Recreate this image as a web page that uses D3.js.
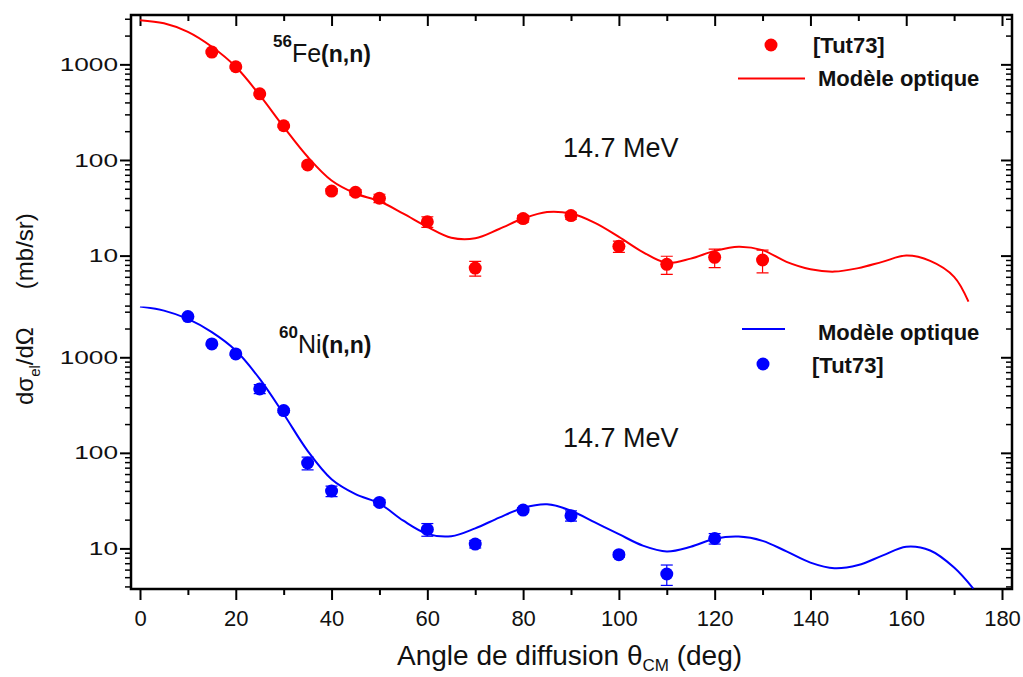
<!DOCTYPE html>
<html>
<head>
<meta charset="utf-8">
<script src="https://cdn.jsdelivr.net/npm/d3@7/dist/d3.min.js"></script>
<style>
	html, body { margin: 0; padding: 0; background: #ffffff; }
	svg { display: block; font-family: 'Liberation Sans', Arial, sans-serif; }
</style>
</head>
<body>
<div id="chart"></div>
<script>
(function () {
	'use strict';

	// --- Data (mb/sr vs. CM angle, deg) ---
	var FE_ANGLES = [15, 20, 25, 30, 35, 40, 45, 50, 60, 70, 80, 90, 100, 110, 120, 130];
	var FE_XS     = [1345, 944, 492, 228, 88.7, 47.3, 46, 39.8, 22.6, 7.4, 24.4, 26.2, 12.5, 8.1, 9.6, 9.0];
	var FE_ERR    = [40, 30, 15, 7, 4, 3, 3, 4, 2.9, 1.3, 2, 2.2, 1.7, 1.75, 2.1, 2.4];

	var FE_MODEL_ANGLES = [0, 5, 10, 15, 20, 25, 30, 35, 40, 45, 50, 55, 60, 65, 70, 75, 80, 85, 90,
		95, 100, 105, 110, 115, 120, 125, 130, 135, 140, 145, 150, 155, 160, 165, 170, 173];
	var FE_MODEL_XS = [2900, 2690, 2190, 1530, 944, 476, 222, 108, 61, 44.6, 37, 27.5, 20, 15.4, 15.2,
		19, 24.4, 28.6, 27.5, 22, 15.7, 10.9, 8.4, 9.3, 11.2, 12.4, 11.4, 8.6, 7.2, 6.8, 7.4, 8.6,
		10, 8.8, 6.0, 3.3];

	var NI_ANGLES = [10, 15, 20, 25, 30, 35, 40, 50, 60, 70, 80, 90, 100, 110, 120];
	var NI_XS     = [2670, 1380, 1085, 467, 277, 78.3, 39.9, 30.3, 15.8, 11.1, 25.2, 22, 8.6, 5.4, 12.7];
	var NI_ERR    = [80, 40, 30, 50, 12, 12, 5, 2, 2.4, 1.0, 1.5, 2.7, 0.5, 1.3, 1.6];

	var NI_MODEL_ANGLES = [0, 5, 10, 15, 20, 25, 30, 35, 40, 45, 50, 55, 60, 65, 70, 75, 80, 85, 90,
		95, 100, 105, 110, 115, 120, 125, 130, 135, 140, 145, 150, 155, 160, 165, 170, 174];
	var NI_MODEL_XS = [3400, 3080, 2520, 1830, 1175, 594, 255, 105, 53, 37, 29.5, 19.5, 14.2, 13.4,
		16.2, 21, 26.5, 28.9, 24.8, 18.7, 14.1, 10.7, 9.3, 10.4, 12.6, 13.3, 12, 9.3, 7.1, 6.2, 6.7,
		8.4, 10.4, 9.5, 6.3, 3.8];

	var X_TICKS       = [0, 20, 40, 60, 80, 100, 120, 140, 160, 180];
	var X_MINOR_TICKS = [10, 30, 50, 70, 90, 110, 130, 150, 170];
	var Y_TICKS       = [10, 100, 1000];

	// --- Layout (pixels) ---
	var WIDTH  = 1023;
	var HEIGHT = 677;
	var LEFT   = 131;
	var RIGHT  = 1012;
	var TOP    = 15;
	var BOTTOM = 589;
	var MAJOR  = 11;
	var MINOR  = 6;
	var FONT   = "'Liberation Sans', Arial, sans-serif";
	var YLAB_STRETCH = 1.38;   // y tick labels are drawn wide in the original

	var RED  = '#ff0000';
	var BLUE = '#0000ff';

	var x = d3.scaleLinear().domain([0, 180]).range([140, 1002]);

	// two stacked log panels sharing the frame
	var yFe = d3.scaleLog().domain([2.95, 3283]).range([306.3, TOP]);
	var yNi = d3.scaleLog().domain([3.76, 3400]).range([BOTTOM, 306.5]);

	function logMinors(scale) {
		var dom = scale.domain();
		var out = [];
		for (var p = 0; p <= 3; p++) {
			for (var m = 2; m <= 9; m++) {
				var v = m * Math.pow(10, p);
				if (v >= dom[0] && v <= dom[1]) out.push(v);
			}
		}
		return out;
	}

	var svg = d3.select('#chart').append('svg')
		.attr('width', WIDTH)
		.attr('height', HEIGHT);

	svg.append('rect').attr('width', WIDTH).attr('height', HEIGHT).attr('fill', '#ffffff');

	function styleAxis(g, width) {
		g.select('.domain').remove();
		g.selectAll('line').attr('stroke', '#000').attr('stroke-width', width);
	}

	// --- X axes: bottom (outward, labelled) and top (inward) ---
	var xb = svg.append('g').attr('transform', 'translate(0,' + BOTTOM + ')');
	xb.call(d3.axisBottom(x).tickValues(X_TICKS).tickSize(MAJOR).tickPadding(10).tickFormat(d3.format('d')));
	styleAxis(xb, 2);
	xb.selectAll('text').attr('fill', '#111').style('font-size', '22px').style('font-family', FONT);

	var xbm = svg.append('g').attr('transform', 'translate(0,' + BOTTOM + ')');
	xbm.call(d3.axisBottom(x).tickValues(X_MINOR_TICKS).tickSize(MINOR).tickFormat(''));
	styleAxis(xbm, 2);

	var xt = svg.append('g').attr('transform', 'translate(0,' + TOP + ')');
	xt.call(d3.axisBottom(x).tickValues(X_TICKS).tickSize(MAJOR).tickFormat(''));
	styleAxis(xt, 2);
	var xtm = svg.append('g').attr('transform', 'translate(0,' + TOP + ')');
	xtm.call(d3.axisBottom(x).tickValues(X_MINOR_TICKS).tickSize(MINOR).tickFormat(''));
	styleAxis(xtm, 2);

	// --- Y axes for each panel: left (outward, labelled) and right (inward) ---
	function drawYAxes(scale) {
		var yl = svg.append('g').attr('transform', 'translate(' + LEFT + ',0)');
		yl.call(d3.axisLeft(scale).tickValues(Y_TICKS).tickSize(MAJOR).tickFormat(d3.format('d')));
		styleAxis(yl, 2);
		yl.selectAll('text')
			.attr('x', -13 / YLAB_STRETCH)
			.attr('transform', 'scale(' + YLAB_STRETCH + ',1)')
			.attr('fill', '#111')
			.style('font-size', '19px')
			.style('font-family', FONT);

		var ylm = svg.append('g').attr('transform', 'translate(' + LEFT + ',0)');
		ylm.call(d3.axisLeft(scale).tickValues(logMinors(scale)).tickSize(MINOR).tickFormat(''));
		styleAxis(ylm, 1.5);

		var yr = svg.append('g').attr('transform', 'translate(' + RIGHT + ',0)');
		yr.call(d3.axisLeft(scale).tickValues(Y_TICKS).tickSize(MAJOR).tickFormat(''));
		styleAxis(yr, 2);
		var yrm = svg.append('g').attr('transform', 'translate(' + RIGHT + ',0)');
		yrm.call(d3.axisLeft(scale).tickValues(logMinors(scale)).tickSize(MINOR).tickFormat(''));
		styleAxis(yrm, 1.5);
	}
	drawYAxes(yFe);
	drawYAxes(yNi);

	// frame
	svg.append('rect')
		.attr('x', LEFT).attr('y', TOP)
		.attr('width', RIGHT - LEFT).attr('height', BOTTOM - TOP)
		.attr('fill', 'none').attr('stroke', '#000').attr('stroke-width', 2.5);

	// clip regions per panel
	var defs = svg.append('defs');
	defs.append('clipPath').attr('id', 'clip-fe').append('rect')
		.attr('x', LEFT).attr('y', TOP).attr('width', RIGHT - LEFT).attr('height', yFe.range()[0] - TOP);
	defs.append('clipPath').attr('id', 'clip-ni').append('rect')
		.attr('x', LEFT).attr('y', yNi.range()[1]).attr('width', RIGHT - LEFT).attr('height', BOTTOM - yNi.range()[1]);

	function drawSeries(scale, clipId, color, mAngles, mXs, angles, xs, errs) {
		var layer = svg.append('g').attr('clip-path', 'url(#' + clipId + ')');

		var line = d3.line()
			.x(function (d) { return x(d[0]); })
			.y(function (d) { return scale(d[1]); })
			.curve(d3.curveCatmullRom.alpha(0.5));

		layer.append('path')
			.datum(d3.zip(mAngles, mXs))
			.attr('d', line)
			.attr('fill', 'none')
			.attr('stroke', color)
			.attr('stroke-width', 2);

		var pts = angles.map(function (a, i) { return { a: a, v: xs[i], e: errs[i] }; });

		var eb = layer.append('g').selectAll('g').data(pts).enter().append('g')
			.attr('stroke', color).attr('stroke-width', 1.2);
		eb.append('line')
			.attr('x1', function (d) { return x(d.a); })
			.attr('x2', function (d) { return x(d.a); })
			.attr('y1', function (d) { return scale(d.v + d.e); })
			.attr('y2', function (d) { return scale(Math.max(d.v - d.e, 0.1)); });
		[1, -1].forEach(function (s) {
			eb.append('line')
				.attr('x1', function (d) { return x(d.a) - 6; })
				.attr('x2', function (d) { return x(d.a) + 6; })
				.attr('y1', function (d) { return scale(s > 0 ? d.v + d.e : d.v - d.e); })
				.attr('y2', function (d) { return scale(s > 0 ? d.v + d.e : d.v - d.e); });
		});

		layer.append('g').selectAll('circle').data(pts).enter().append('circle')
			.attr('cx', function (d) { return x(d.a); })
			.attr('cy', function (d) { return scale(d.v); })
			.attr('r', 6.5)
			.attr('fill', color);
	}

	drawSeries(yFe, 'clip-fe', RED, FE_MODEL_ANGLES, FE_MODEL_XS, FE_ANGLES, FE_XS, FE_ERR);
	drawSeries(yNi, 'clip-ni', BLUE, NI_MODEL_ANGLES, NI_MODEL_XS, NI_ANGLES, NI_XS, NI_ERR);

	// --- Annotations ---
	function reaction(xPos, yBase, mass, elem) {
		var t = svg.append('text').attr('x', xPos).attr('y', yBase)
			.attr('fill', '#111').style('font-family', FONT);
		t.append('tspan').attr('dy', -15).style('font-size', '17px').style('font-weight', 'bold').text(mass);
		t.append('tspan').attr('dy', 15).style('font-size', '25px').text(elem);
		t.append('tspan').style('font-size', '23px').style('font-weight', 'bold').text('(n,n)');
	}
	reaction(273, 62, '56', 'Fe');
	reaction(279, 353, '60', 'Ni');

	function energy(yBase) {
		svg.append('text').attr('x', 563).attr('y', yBase)
			.attr('fill', '#111')
			.style('font-family', FONT).style('font-size', '27px')
			.text('14.7 MeV');
	}
	energy(157);
	energy(447);

	// --- Legends ---
	function legendText(xPos, yBase, label) {
		svg.append('text').attr('x', xPos).attr('y', yBase)
			.attr('fill', '#111')
			.style('font-family', FONT).style('font-size', '22px').style('font-weight', 'bold')
			.text(label);
	}
	svg.append('circle').attr('cx', 771).attr('cy', 45).attr('r', 6.5).attr('fill', RED);
	legendText(813, 53, '[Tut73]');
	svg.append('line').attr('x1', 738).attr('x2', 805).attr('y1', 78.5).attr('y2', 78.5)
		.attr('stroke', RED).attr('stroke-width', 2);
	legendText(818, 86, 'Modèle optique');

	svg.append('line').attr('x1', 742).attr('x2', 785).attr('y1', 329).attr('y2', 329)
		.attr('stroke', BLUE).attr('stroke-width', 2);
	legendText(818, 340, 'Modèle optique');
	svg.append('circle').attr('cx', 763).attr('cy', 364).attr('r', 6.5).attr('fill', BLUE);
	legendText(812, 373, '[Tut73]');

	// --- Axis titles ---
	var xt2 = svg.append('text').attr('x', 397).attr('y', 665)
		.attr('fill', '#111').style('font-family', FONT).style('font-size', '28px');
	xt2.append('tspan').text('Angle de diffusion θ');
	xt2.append('tspan').attr('dy', 6).style('font-size', '17px').text('CM');
	xt2.append('tspan').attr('dy', -6).text(' (deg)');

	var yt = svg.append('text')
		.attr('transform', 'translate(33,405) rotate(-90)')
		.attr('fill', '#111').style('font-family', FONT).style('font-size', '24px');
	yt.append('tspan').text('dσ');
	yt.append('tspan').attr('dy', 7).style('font-size', '15px').text('el');
	yt.append('tspan').attr('dy', -7).text('/dΩ');
	yt.append('tspan').attr('dx', 38).text('(mb/sr)');
})();
</script>
</body>
</html>
